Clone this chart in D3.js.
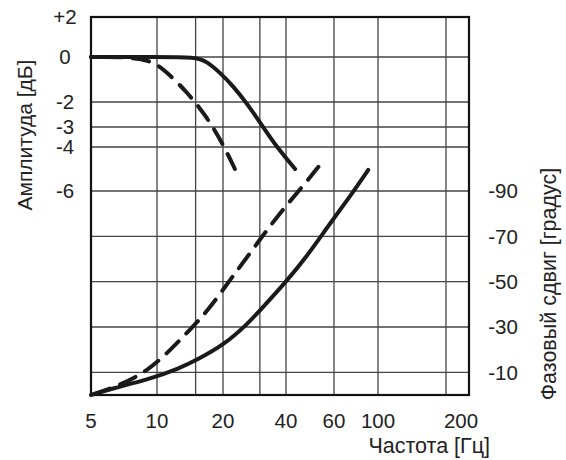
<!DOCTYPE html>
<meta charset="utf-8">
<script src="https://d3js.org/d3.v7.min.js"></script>
<style>
  body { margin: 0; background: #fff; }
  text { font-family: "Liberation Sans", Arial, sans-serif; fill: #222; }
</style>
<div id="chart"></div>
<script>

// frequency [Hz] tick labels and grid lines
var freqTicks = [5, 10, 20, 40, 60, 100, 200];
var freqGrid = [10, 15, 20, 30, 40, 60, 100, 200];

// amplitude [dB] and phase [deg] ticks
var ampTicks = [2, 0, -2, -3, -4, -6];
var phaseTicks = [-90, -70, -50, -30, -10];

// amplitude curves
var ampSolidF = [5, 10, 15, 16.9, 19.4, 22.4, 26, 31.1, 36.1, 43.2];
var ampSolidDb = [0, 0, 0, -0.2, -0.7, -1.3, -2.05, -3, -4, -5];
var ampDashF = [5, 9, 10.9, 13.7, 16.9, 20.1, 22.8];
var ampDashDb = [0, 0, -0.6, -1.55, -2.6, -3.9, -5];

// phase curves
var phSolidF = [5, 6.3, 9, 12.7, 15.2, 20.1, 26, 31.2, 39.8, 47.6, 58, 72.2, 89.3];
var phSolidDeg = [0, -3, -6.6, -11.8, -15.5, -22, -31, -39, -49.7, -61, -75.7, -87.5, -99.3];
var phDashF = [5, 6.55, 9, 11.5, 14.1, 16.9, 21.6, 26.9, 32.4, 40.2, 47.6, 52.6];
var phDashDeg = [0, -3.7, -10.3, -19.8, -28.7, -36.7, -50.7, -62.5, -72.8, -83.8, -94.1, -100.7];

var width = 566,
    height = 460;

// plot box (don't call it "top", that's window.top)
var pLeft = 91, pRight = 469, pTop = 17, pBottom = 395;

var svg = d3.select("#chart")
  .append("svg")
    .attr("width", width)
    .attr("height", height);

// the printed grid is not a perfect log grid, so use a piecewise log scale
var x = d3.scaleLog()
    .domain([5, 10, 20, 40, 60, 100, 200, 250])
    .range([pLeft, 157, 223, 286, 334, 378, 446, pRight]);

// same for the dB axis
var yAmp = d3.scaleLinear()
    .domain([2, 0, -2, -3, -4, -6])
    .range([pTop, 57, 102, 127, 147, 191]);

var yPh = d3.scaleLinear()
    .domain([0, -90])
    .range([pBottom, 191]);

// grid
svg.selectAll(".vgrid")
  .data(freqGrid)
  .enter().append("line")
    .attr("x1", function(d) { return x(d); })
    .attr("x2", function(d) { return x(d); })
    .attr("y1", pTop).attr("y2", pBottom)
    .attr("stroke", "#444").attr("stroke-width", 1.3);

svg.selectAll(".hgridA")
  .data(ampTicks.slice(1))
  .enter().append("line")
    .attr("x1", pLeft).attr("x2", pRight)
    .attr("y1", function(d) { return yAmp(d); })
    .attr("y2", function(d) { return yAmp(d); })
    .attr("stroke", "#444").attr("stroke-width", 1.3);

svg.selectAll(".hgridP")
  .data(phaseTicks.slice(1))
  .enter().append("line")
    .attr("x1", pLeft).attr("x2", pRight)
    .attr("y1", function(d) { return yPh(d); })
    .attr("y2", function(d) { return yPh(d); })
    .attr("stroke", "#444").attr("stroke-width", 1.3);

// frame
svg.append("rect")
    .attr("x", pLeft).attr("y", pTop)
    .attr("width", pRight - pLeft).attr("height", pBottom - pTop)
    .attr("fill", "none").attr("stroke", "#111").attr("stroke-width", 2.2);

// curves
var dash = 17, gap = 11;

function drawCurve(fs, vs, yScale, dashed) {
  var pts = fs.map(function(f, i) { return [x(f), yScale(vs[i])]; });
  var line = d3.line().curve(d3.curveBasis);
  var path = svg.append("path")
      .attr("d", line(pts))
      .attr("fill", "none")
      .attr("stroke", "#1a1a1a")
      .attr("stroke-width", 4)
      .attr("stroke-linecap", "round");
  if (dashed) {
    // make the pattern finish on a dash at the end of the curve
    var len = path.node().getTotalLength();
    var period = dash + gap;
    var off = ((dash - len % period) % period + period) % period;
    path.attr("stroke-dasharray", dash + " " + gap)
        .attr("stroke-dashoffset", off);
  }
}

drawCurve(ampDashF, ampDashDb, yAmp, true);
drawCurve(ampSolidF, ampSolidDb, yAmp, false);
drawCurve(phDashF, phDashDeg, yPh, true);
drawCurve(phSolidF, phSolidDeg, yPh, false);

// tick labels
svg.selectAll(".xlab")
  .data(freqTicks)
  .enter().append("text")
    .attr("x", function(d) { return x(d) + (d == 200 ? 15 : 0); })
    .attr("y", 428)
    .attr("text-anchor", "middle")
    .style("font-size", "20.5px")
    .text(function(d) { return d; });

svg.selectAll(".ylabA")
  .data(ampTicks)
  .enter().append("text")
    .attr("x", 65)
    .attr("y", function(d) { return yAmp(d); })
    .attr("dy", "0.36em")
    .attr("text-anchor", "middle")
    .style("font-size", "20.5px")
    .text(function(d) { return d > 0 ? "+" + d : d; });

svg.selectAll(".ylabP")
  .data(phaseTicks)
  .enter().append("text")
    .attr("x", 503)
    .attr("y", function(d) { return yPh(d); })
    .attr("dy", "0.36em")
    .attr("text-anchor", "middle")
    .style("font-size", "20.5px")
    .text(function(d) { return d; });

// axis titles
svg.append("text")
    .attr("x", 490).attr("y", 453)
    .attr("text-anchor", "end")
    .style("font-size", "21.5px")
    .text("Частота [Гц]");

svg.append("text")
    .attr("transform", "translate(32,135) rotate(-90)")
    .attr("text-anchor", "middle")
    .style("font-size", "21px")
    .text("Амплитуда [дБ]");

svg.append("text")
    .attr("transform", "translate(556,284) rotate(-90)")
    .attr("text-anchor", "middle")
    .style("font-size", "21.5px")
    .text("Фазовый сдвиг [градус]");

</script>
